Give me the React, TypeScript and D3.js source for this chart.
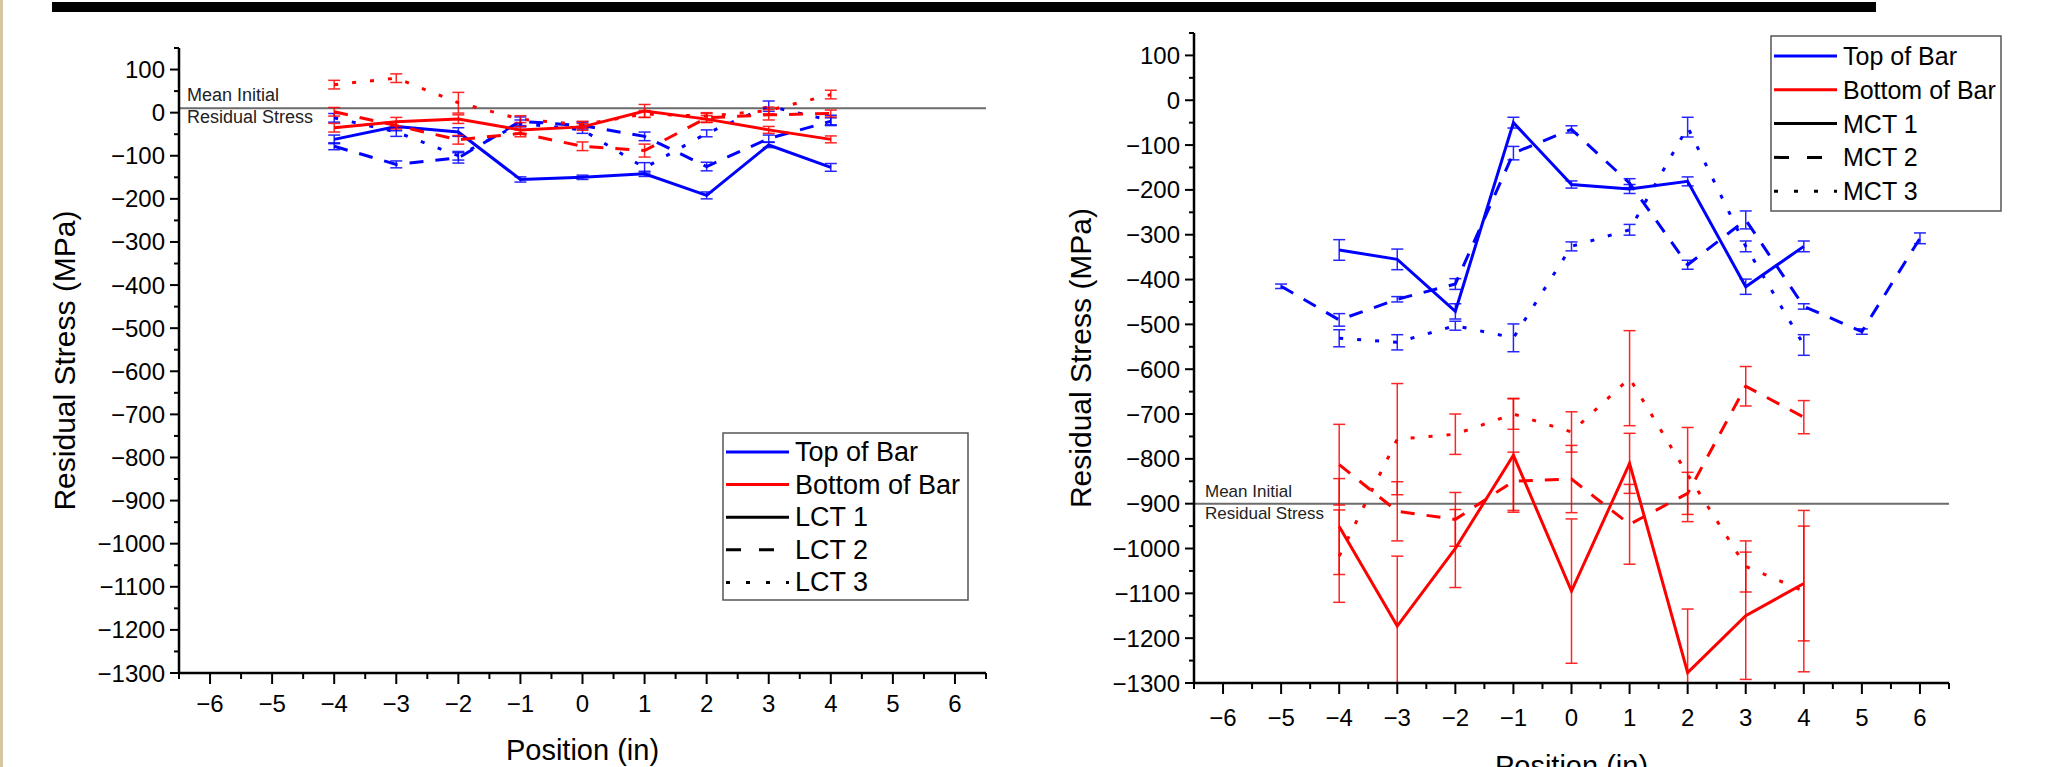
import React from 'react';
import * as d3 from 'd3';

// left panel: LCT specimens, positions -4..4 (in), residual stress (MPa)
const lctPositions = [-4, -3, -2, -1, 0, 1, 2, 3, 4];
const lctTop1 = [-62, -32, -45, -155, -150, -142, -192, -75, -127];
const lctTop1Err = [10, 10, 10, 6, 5, 6, 8, 6, 9];
const lctTop2 = [-78, -120, -105, -20, -30, -55, -125, -60, -20];
const lctTop2Err = [8, 8, 12, 10, 8, 10, 10, 8, 8];
const lctTop3 = [-12, -45, -100, -25, -40, -128, -48, 15, -18];
const lctTop3Err = [10, 10, 10, 8, 8, 12, 8, 12, 12];
const lctBot1 = [-35, -21, -15, -40, -33, 4, -15, -40, -62];
const lctBot1Err = [10, 10, 10, 8, 8, 15, 8, 8, 8];
const lctBot2 = [2, -30, -63, -48, -78, -88, -12, -5, -2];
const lctBot2Err = [10, 8, 10, 8, 10, 15, 10, 12, 8];
const lctBot3 = [65, 80, 23, -15, -28, -3, -8, 5, 42];
const lctBot3Err = [10, 10, 24, 8, 8, 8, 8, 8, 10];
const lctMean = 10;

// right panel: MCT specimens
const mctPositions = [-4, -3, -2, -1, 0, 1, 2, 3, 4];
const mctPositionsWide = [-5, -4, -3, -2, -1, 0, 1, 2, 3, 4, 5, 6];
const mctTop1 = [-334, -355, -471, -50, -188, -198, -181, -416, -326];
const mctTop1Err = [23, 23, 17, 12, 8, 10, 10, 17, 12];
const mctTop2 = [-415, -490, -444, -410, -118, -65, -185, -367, -267, -460, -516, -308];
const mctTop2Err = [5, 14, 6, 12, 15, 8, 10, 10, 20, 6, 6, 12];
const mctTop3 = [-531, -540, -503, -530, -326, -289, -60, -326, -546];
const mctTop3Err = [19, 17, 10, 31, 10, 12, 22, 12, 23];
const mctBot1 = [-951, -1173, -1000, -792, -1095, -810, -1277, -1150, -1078];
const mctBot1Err = [107, 156, 87, 127, 161, 67, 142, 142, 128];
const mctBot2 = [-813, -917, -935, -850, -845, -946, -877, -638, -707];
const mctBot2Err = [90, 66, 60, 65, 75, 89, 47, 44, 37];
const mctBot3 = [-1017, -756, -745, -700, -740, -620, -835, -1040, -1095];
const mctBot3Err = [103, 124, 45, 34, 45, 106, 105, 57, 180];
const mctMean = -900;

const xTicks = [-6, -5, -4, -3, -2, -1, 0, 1, 2, 3, 4, 5, 6];
const yTicks = d3.range(-1300, 101, 100);

const BLUE = '#0000ff';
const RED = '#ff0000';
const FONT = '"Liberation Sans", Arial, sans-serif';
const DASH: Record<string, string | undefined> = { solid: undefined, dashed: '14 12', dotted: '4 14' };

type Series = { xs: number[]; ys: number[]; errs: number[]; color: string; style: string };

type PanelProps = {
  id: string;
  box: { x0: number; x1: number; y0: number; y1: number };
  series: Series[];
  mean: number;
  meanLabelX: number;
  meanFont: number;
  legendBox: { x: number; y: number; w: number; h: number };
  legendRow0: number;
  legendGap: number;
  legendFont: number;
  legendNames: string[];
  yTitleX: number;
  xTitleY: number;
  xLabelDy: number;
};

function Panel(p: PanelProps) {
  const { box } = p;
  const x = d3.scaleLinear().domain([-6.5, 6.5]).range([box.x0, box.x1]);
  const y = d3.scaleLinear().domain([-1300, 150]).range([box.y1, box.y0]);
  const line = d3.line<[number, number]>().x(d => x(d[0])).y(d => y(d[1]));
  const fmt = d3.format('d');
  const lb = p.legendBox;
  const legendStyles = [
    { color: BLUE, style: 'solid' },
    { color: RED, style: 'solid' },
    { color: '#000', style: 'solid' },
    { color: '#000', style: 'dashed' },
    { color: '#000', style: 'dotted' },
  ];

  return (
    <g fontFamily={FONT}>
      <defs>
        <clipPath id={p.id + '-clip'}>
          <rect x={box.x0} y={box.y0} width={box.x1 - box.x0} height={box.y1 - box.y0} />
        </clipPath>
      </defs>

      {/* mean initial residual stress */}
      <line x1={box.x0} x2={box.x1} y1={y(p.mean)} y2={y(p.mean)} stroke="#6b6b6b" strokeWidth={2} />
      <text x={p.meanLabelX} y={y(p.mean) - 7} fontSize={p.meanFont} fill="#222">Mean Initial</text>
      <text x={p.meanLabelX} y={y(p.mean) + 15} fontSize={p.meanFont} fill="#222">Residual Stress</text>

      <g clipPath={`url(#${p.id}-clip)`}>
        {p.series.map((s, si) => (
          <g key={si}>
            {s.xs.map((v, i) => {
              const cx = x(v);
              const hi = y(s.ys[i] + s.errs[i]);
              const lo = y(s.ys[i] - s.errs[i]);
              return (
                <g key={i} stroke={s.color} strokeWidth={1.5} opacity={0.85}>
                  <line x1={cx} x2={cx} y1={hi} y2={lo} />
                  <line x1={cx - 6} x2={cx + 6} y1={hi} y2={hi} />
                  <line x1={cx - 6} x2={cx + 6} y1={lo} y2={lo} />
                </g>
              );
            })}
            <path
              d={line(s.xs.map((v, i) => [v, s.ys[i]] as [number, number])) || ''}
              fill="none"
              stroke={s.color}
              strokeWidth={3}
              strokeDasharray={DASH[s.style]}
            />
          </g>
        ))}
      </g>

      {/* y axis */}
      <line x1={box.x0} x2={box.x0} y1={box.y0} y2={box.y1 + 1} stroke="#000" strokeWidth={2.5} />
      {yTicks.map(t => (
        <g key={t}>
          <line x1={box.x0 - 9} x2={box.x0} y1={y(t)} y2={y(t)} stroke="#000" strokeWidth={2} />
          <text x={box.x0 - 14} y={y(t)} textAnchor="end" dominantBaseline="central" fontSize={24}>{fmt(t)}</text>
        </g>
      ))}
      {d3.range(-1250, 151, 100).map(t => (
        <line key={t} x1={box.x0 - 5} x2={box.x0} y1={y(t)} y2={y(t)} stroke="#000" strokeWidth={2} />
      ))}

      {/* x axis */}
      <line x1={box.x0 - 1} x2={box.x1} y1={box.y1} y2={box.y1} stroke="#000" strokeWidth={2.5} />
      {xTicks.map(t => (
        <g key={t}>
          <line x1={x(t)} x2={x(t)} y1={box.y1} y2={box.y1 + 11} stroke="#000" strokeWidth={2} />
          <text x={x(t)} y={box.y1 + p.xLabelDy} textAnchor="middle" fontSize={24}>{fmt(t)}</text>
        </g>
      ))}
      {d3.range(-6.5, 6.51, 1).map(t => (
        <line key={t} x1={x(t)} x2={x(t)} y1={box.y1} y2={box.y1 + 6} stroke="#000" strokeWidth={2} />
      ))}

      <text
        transform={`translate(${p.yTitleX},${(box.y0 + box.y1) / 2}) rotate(-90)`}
        textAnchor="middle"
        fontSize={30}
      >
        Residual Stress (MPa)
      </text>
      <text x={(box.x0 + box.x1) / 2} y={p.xTitleY} textAnchor="middle" fontSize={29}>Position (in)</text>

      {/* legend */}
      <rect x={lb.x} y={lb.y} width={lb.w} height={lb.h} fill="#fff" stroke="#555" strokeWidth={1.5} />
      {p.legendNames.map((name, i) => {
        const ry = p.legendRow0 + i * p.legendGap;
        return (
          <g key={name}>
            <line
              x1={lb.x + 3}
              x2={lb.x + 66}
              y1={ry}
              y2={ry}
              stroke={legendStyles[i].color}
              strokeWidth={3}
              strokeDasharray={legendStyles[i].style === 'dashed' ? '15 18' : legendStyles[i].style === 'dotted' ? '4 16' : undefined}
            />
            <text x={lb.x + 72} y={ry} dominantBaseline="central" fontSize={p.legendFont}>{name}</text>
          </g>
        );
      })}
    </g>
  );
}

export default function App() {
  const lctSeries: Series[] = [
    { xs: lctPositions, ys: lctTop1, errs: lctTop1Err, color: BLUE, style: 'solid' },
    { xs: lctPositions, ys: lctTop2, errs: lctTop2Err, color: BLUE, style: 'dashed' },
    { xs: lctPositions, ys: lctTop3, errs: lctTop3Err, color: BLUE, style: 'dotted' },
    { xs: lctPositions, ys: lctBot1, errs: lctBot1Err, color: RED, style: 'solid' },
    { xs: lctPositions, ys: lctBot2, errs: lctBot2Err, color: RED, style: 'dashed' },
    { xs: lctPositions, ys: lctBot3, errs: lctBot3Err, color: RED, style: 'dotted' },
  ];
  const mctSeries: Series[] = [
    { xs: mctPositions, ys: mctTop1, errs: mctTop1Err, color: BLUE, style: 'solid' },
    { xs: mctPositionsWide, ys: mctTop2, errs: mctTop2Err, color: BLUE, style: 'dashed' },
    { xs: mctPositions, ys: mctTop3, errs: mctTop3Err, color: BLUE, style: 'dotted' },
    { xs: mctPositions, ys: mctBot1, errs: mctBot1Err, color: RED, style: 'solid' },
    { xs: mctPositions, ys: mctBot2, errs: mctBot2Err, color: RED, style: 'dashed' },
    { xs: mctPositions, ys: mctBot3, errs: mctBot3Err, color: RED, style: 'dotted' },
  ];

  return (
    <svg
      width={2047}
      height={767}
      style={{ position: 'absolute', left: 0, top: 0, background: '#fff' }}
    >
      <rect x={0} y={0} width={2047} height={767} fill="#fff" />
      <rect x={0} y={0} width={3} height={767} fill="#d8c8a2" />
      <rect x={52} y={2} width={1824} height={10} fill="#000" />

      <Panel
        id="lct"
        box={{ x0: 179, x1: 986, y0: 48, y1: 673 }}
        series={lctSeries}
        mean={lctMean}
        meanLabelX={187}
        meanFont={18}
        legendBox={{ x: 723, y: 433, w: 245, h: 167 }}
        legendRow0={452}
        legendGap={32.6}
        legendFont={27}
        legendNames={['Top of Bar', 'Bottom of Bar', 'LCT 1', 'LCT 2', 'LCT 3']}
        yTitleX={75}
        xTitleY={760}
        xLabelDy={39}
      />
      <Panel
        id="mct"
        box={{ x0: 1194, x1: 1949, y0: 33, y1: 683 }}
        series={mctSeries}
        mean={mctMean}
        meanLabelX={1205}
        meanFont={17}
        legendBox={{ x: 1771, y: 36, w: 230, h: 175 }}
        legendRow0={56}
        legendGap={33.8}
        legendFont={25}
        legendNames={['Top of Bar', 'Bottom of Bar', 'MCT 1', 'MCT 2', 'MCT 3']}
        yTitleX={1091}
        xTitleY={776}
        xLabelDy={43}
      />
    </svg>
  );
}
